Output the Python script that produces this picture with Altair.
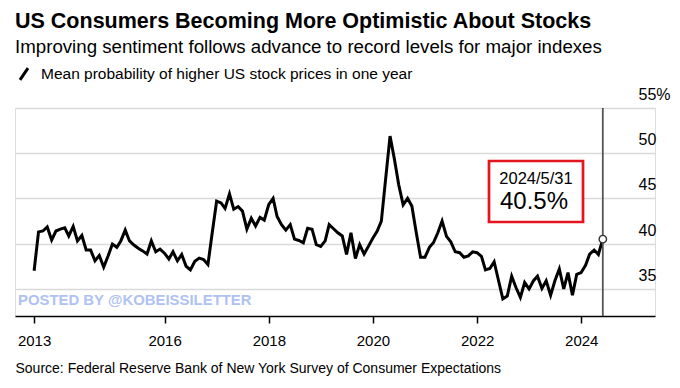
import altair as alt
import pandas as pd

# Monthly readings (month-end), June 2013 - May 2024, % probability
v2013 = [37.0, 41.3, 41.4, 41.85, 40.4, 41.4, 41.6]
v2014 = [41.75, 40.85, 41.9, 40.3, 40.9, 39.3, 39.3, 38.1, 38.7, 37.4, 38.6, 39.95]
v2015 = [39.6, 40.3, 41.5, 40.3, 39.85, 39.5, 39.2, 38.85, 40.3, 39.1, 39.4, 38.95]
v2016 = [38.3, 39.1, 38.1, 38.8, 37.5, 37.1, 38.05, 38.4, 38.25, 37.7, 41.2, 44.7]
v2017 = [44.5, 43.9, 45.5, 43.8, 44.1, 43.6, 41.6, 42.8, 41.95, 42.9, 42.6, 44.3]
v2018 = [45.0, 43.0, 42.1, 41.5, 42.1, 40.5, 40.35, 40.1, 41.7, 41.6, 39.9, 39.7]
v2019 = [40.3, 42.1, 41.65, 41.2, 40.85, 38.8, 41.2, 38.35, 39.9, 38.85, 39.7, 40.6]
v2020 = [41.4, 42.5, 47.3, 51.9, 49.3, 46.5, 44.3, 45.0, 44.15, 41.2, 38.5, 38.5]
v2021 = [39.6, 40.1, 41.2, 42.5, 40.8, 40.2, 39.1, 39.0, 38.5, 38.65, 39.1, 39.0]
v2022 = [38.6, 37.1, 37.25, 38.0, 35.9, 33.9, 34.2, 36.4, 35.15, 34.05, 35.7, 35.0]
v2023 = [35.9, 36.4, 35.05, 35.9, 34.3, 35.9, 37.2, 35.0, 36.8, 34.3, 36.6, 36.8]
v2024 = [37.6, 38.85, 39.3, 38.8, 40.5]

series_name = "Mean probability of higher US stock prices in one year"
y_ticks = [35, 40, 45, 50, 55]
x_tick_dates = [(2013, 6, 30), (2016, 1, 1), (2018, 1, 1), (2020, 1, 1), (2022, 1, 1), (2024, 1, 1)]

values = v2013 + v2014 + v2015 + v2016 + v2017 + v2018 + v2019 + v2020 + v2021 + v2022 + v2023 + v2024
dates = pd.date_range("2013-06-01", periods=len(values), freq="MS") + pd.offsets.MonthEnd(0)
df = pd.DataFrame({"date": dates.strftime("%Y-%m-%d"), "value": values, "series": series_name})
last = df.iloc[[-1]].copy()
d_last = dates[-1]
ann_date = f"{d_last.year}/{d_last.month}/{d_last.day}"
ann_val = f"{values[-1]}%"

FONT = "Liberation Sans"
W, H = 640, 208

xscale = alt.Scale(domain=[alt.DateTime(year=2013, month=2, date=16, utc=True),
                           alt.DateTime(year=2025, month=6, date=1, utc=True)])
yscale = alt.Scale(domain=[32, 55], nice=False, zero=False)

xaxis = alt.Axis(
    values=[alt.DateTime(year=y, month=m, date=d, utc=True) for y, m, d in x_tick_dates],
    labelExpr="utcFormat(datum.value, '%Y')",
    title="Source: Federal Reserve Bank of New York Survey of Consumer Expectations",
    titleAnchor="start", titleAlign="left", titleBaseline="alphabetic",
    titleX=0, titleY=56, titleFontWeight="normal", titleFontSize=14, titleColor="black",
    titleFont=FONT,
    domainColor="black", domainWidth=1.5, tickColor="black", tickWidth=1.5, tickSize=7,
    labelFontSize=15, labelColor="black", labelFont=FONT, labelPadding=17,
    labelBaseline="middle", labelFlush=False, grid=False,
)
yaxis = alt.Axis(
    orient="right", values=y_ticks,
    labelExpr="datum.value == 55 ? '55%' : datum.label",
    grid=True, gridColor="#d9d9d9", gridWidth=1.5,
    domain=False, ticks=False, offset=-17, labelPadding=0,
    labelAlign="left", labelBaseline="middle", labelOffset=-13.5,
    labelFontSize=16, labelColor="black", labelFont=FONT, title=None,
)

line = alt.Chart(df).mark_line(strokeWidth=3).encode(
    x=alt.X("date:T", scale=xscale, axis=xaxis),
    y=alt.Y("value:Q", scale=yscale, axis=yaxis),
    color=alt.Color("series:N", scale=alt.Scale(range=["black"]),
                    legend=alt.Legend(title=None, orient="none", legendX=1, legendY=-42,
                                      symbolType="M-0.65,0.95L0.65,-0.95", symbolStrokeWidth=3,
                                      symbolSize=150, symbolStrokeColor="black",
                                      labelFontSize=15.5, labelColor="black", labelFont=FONT,
                                      labelOffset=9, labelLimit=0, padding=0)),
)

rule = alt.Chart(last).mark_rule(color="#555555", strokeWidth=1.8).encode(x="date:T")
point = alt.Chart(last).mark_point(shape="circle", filled=True, fill="white", stroke="#333333",
                                   strokeWidth=1.4, size=55, opacity=1).encode(
    x="date:T", y="value:Q")

box = alt.Chart(last).mark_rect(fill="white", stroke="#e3151f", strokeWidth=2.7).encode(
    x=alt.value(474), x2=alt.value(568), y=alt.value(53), y2=alt.value(114))
t1 = alt.Chart(last).mark_text(text=ann_date, fontSize=16.5, font=FONT, color="black",
                               align="center", baseline="middle").encode(
    x=alt.value(521), y=alt.value(71))
t2 = alt.Chart(last).mark_text(text=ann_val, fontSize=24, font=FONT, color="black",
                               align="center", baseline="middle").encode(
    x=alt.value(519), y=alt.value(93.5))

wm = alt.Chart(last).mark_text(text="POSTED BY @KOBEISSILETTER", fontSize=14.9, font=FONT,
                               fontWeight="bold", color="#b0c2f2", align="left",
                               baseline="middle").encode(x=alt.value(3), y=alt.value(193))

chart = alt.layer(line, wm, rule, point, box, t1, t2).properties(
    width=W, height=H,
    title=alt.TitleParams(
        text="US Consumers Becoming More Optimistic About Stocks",
        subtitle="Improving sentiment follows advance to record levels for major indexes",
        anchor="start", frame="group", fontSize=21.5, fontWeight="bold", color="black",
        font=FONT, subtitleFont=FONT, subtitleFontSize=18.7, subtitleColor="black",
        subtitlePadding=6, offset=9,
    ),
    autosize=alt.AutoSizeParams(type="none"),
    padding={"left": 7, "top": 100, "right": 17, "bottom": 60},
).configure_view(stroke=None).configure(background="white")

chart.save("out.html", embed_options={"renderer": "svg", "actions": False})
